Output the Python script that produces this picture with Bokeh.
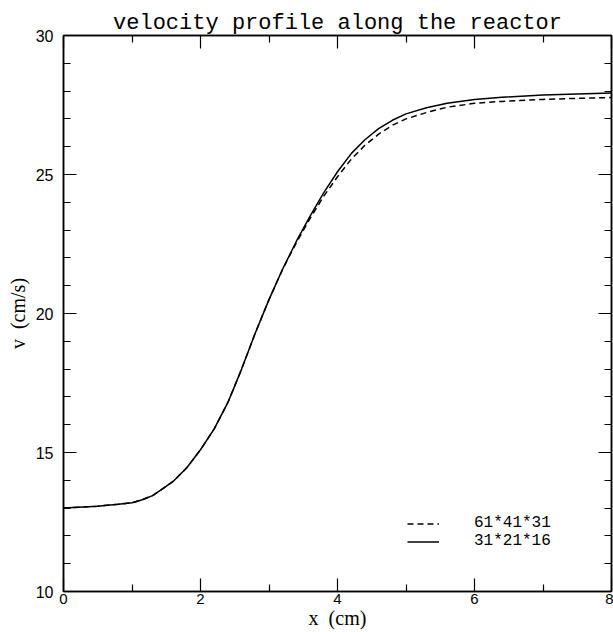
from bokeh.plotting import figure
from bokeh.models import (Range1d, LinearAxis, FixedTicker, Legend, LegendItem)
from bokeh.embed import file_html
from bokeh.resources import INLINE

# ---- data ----
x_pos = [0, 0.5, 0.8, 1.0, 1.15, 1.3, 1.45, 1.6, 1.8, 2.0, 2.2, 2.4, 2.6, 2.8,
         3.0, 3.2, 3.4, 3.6, 3.8, 4.0, 4.2, 4.4, 4.6, 4.8, 5.0, 5.3, 5.6, 6.0,
         6.4, 7.0, 7.5, 8.0]
v_31_21_16 = [13.0, 13.07, 13.14, 13.19, 13.3, 13.45, 13.7, 13.96, 14.45, 15.1,
              15.85, 16.8, 18.0, 19.3, 20.5, 21.6, 22.6, 23.5, 24.35, 25.1,
              25.75, 26.25, 26.65, 26.95, 27.18, 27.4, 27.56, 27.7, 27.78,
              27.86, 27.9, 27.93]
v_61_41_31 = [13.0, 13.07, 13.14, 13.19, 13.3, 13.45, 13.7, 13.96, 14.45, 15.1,
              15.85, 16.8, 18.0, 19.3, 20.5, 21.6, 22.55, 23.42, 24.22, 24.92,
              25.55, 26.05, 26.45, 26.77, 27.0, 27.23, 27.42, 27.56, 27.63,
              27.7, 27.74, 27.77]
label_fine = "61*41*31"
label_coarse = "31*21*16"
x_major = [0, 2, 4, 6, 8]
x_minor = [1, 3, 5, 7]
y_major = [10, 15, 20, 25, 30]
y_minor = [v for v in range(10, 31) if v % 5 != 0]

TICK_FONT = "Liberation Sans"

p = figure(width=613, height=632, output_backend="svg", toolbar_location=None,
           x_range=Range1d(0, 8), y_range=Range1d(10, 30),
           min_border_left=63, min_border_right=2, min_border_top=35,
           min_border_bottom=41)
p.xgrid.visible = False
p.ygrid.visible = False
p.outline_line_color = "black"
p.outline_line_width = 1.5
p.background_fill_color = "white"
p.border_fill_color = "white"

p.title.text = "velocity profile along the reactor"
p.title.text_font = "Liberation Mono"
p.title.text_font_size = "22px"
p.title.text_font_style = "normal"
p.title.text_color = "black"
p.title.align = "center"
p.title.standoff = 0
p.title.offset = 0

def style_axis(ax, ticks, minor, labels=True):
    ax.ticker = FixedTicker(ticks=ticks, minor_ticks=minor)
    ax.axis_line_color = "black"
    ax.axis_line_width = 1.5
    ax.major_tick_in = 13
    ax.major_tick_out = 0
    ax.minor_tick_in = 7
    ax.minor_tick_out = 0
    ax.major_tick_line_color = "black"
    ax.minor_tick_line_color = "black"
    ax.major_tick_line_width = 1.2
    ax.minor_tick_line_width = 1.2
    ax.major_label_text_font = TICK_FONT
    ax.major_label_text_color = "black"
    if labels:
        ax.major_label_text_font_size = "16px"
    else:
        ax.major_label_overrides = {t: "" for t in ticks}
        ax.major_label_text_font_size = "1px"
        ax.major_label_standoff = 0

xa = p.xaxis[0]
ya = p.yaxis[0]
style_axis(xa, x_major, x_minor)
style_axis(ya, y_major, y_minor)
xa.major_label_text_font_size = "15px"
xa.major_label_standoff = 2
ya.major_label_standoff = 10
xa.axis_label = "x\u00a0\u00a0(cm)"
ya.axis_label = "v\u00a0\u00a0(cm/s)"
for ax in (xa, ya):
    ax.axis_label_text_font = "Liberation Serif"
    ax.axis_label_text_font_size = "20px"
    ax.axis_label_text_font_style = "normal"
    ax.axis_label_text_color = "black"
xa.axis_label_standoff = 0
ya.axis_label_standoff = 4

top = LinearAxis()
style_axis(top, x_major, x_minor, labels=False)
p.add_layout(top, "above")
right = LinearAxis()
style_axis(right, y_major, y_minor, labels=False)
p.add_layout(right, "right")

r_fine = p.line(x_pos, v_61_41_31, line_color="black", line_width=1.5,
                line_dash="6 4")
r_coarse = p.line(x_pos, v_31_21_16, line_color="black", line_width=1.5)

legend = Legend(items=[LegendItem(label=label_fine, renderers=[r_fine]),
                       LegendItem(label=label_coarse, renderers=[r_coarse])],
                location=(344, 41), glyph_width=32, glyph_height=17,
                label_height=17, spacing=0, padding=0, margin=0,
                label_standoff=35, border_line_alpha=0,
                background_fill_alpha=0, label_text_color="black",
                label_text_font="Liberation Mono", label_text_font_size="16px")
p.add_layout(legend)

open("out.html", "w").write(file_html(p, INLINE))
